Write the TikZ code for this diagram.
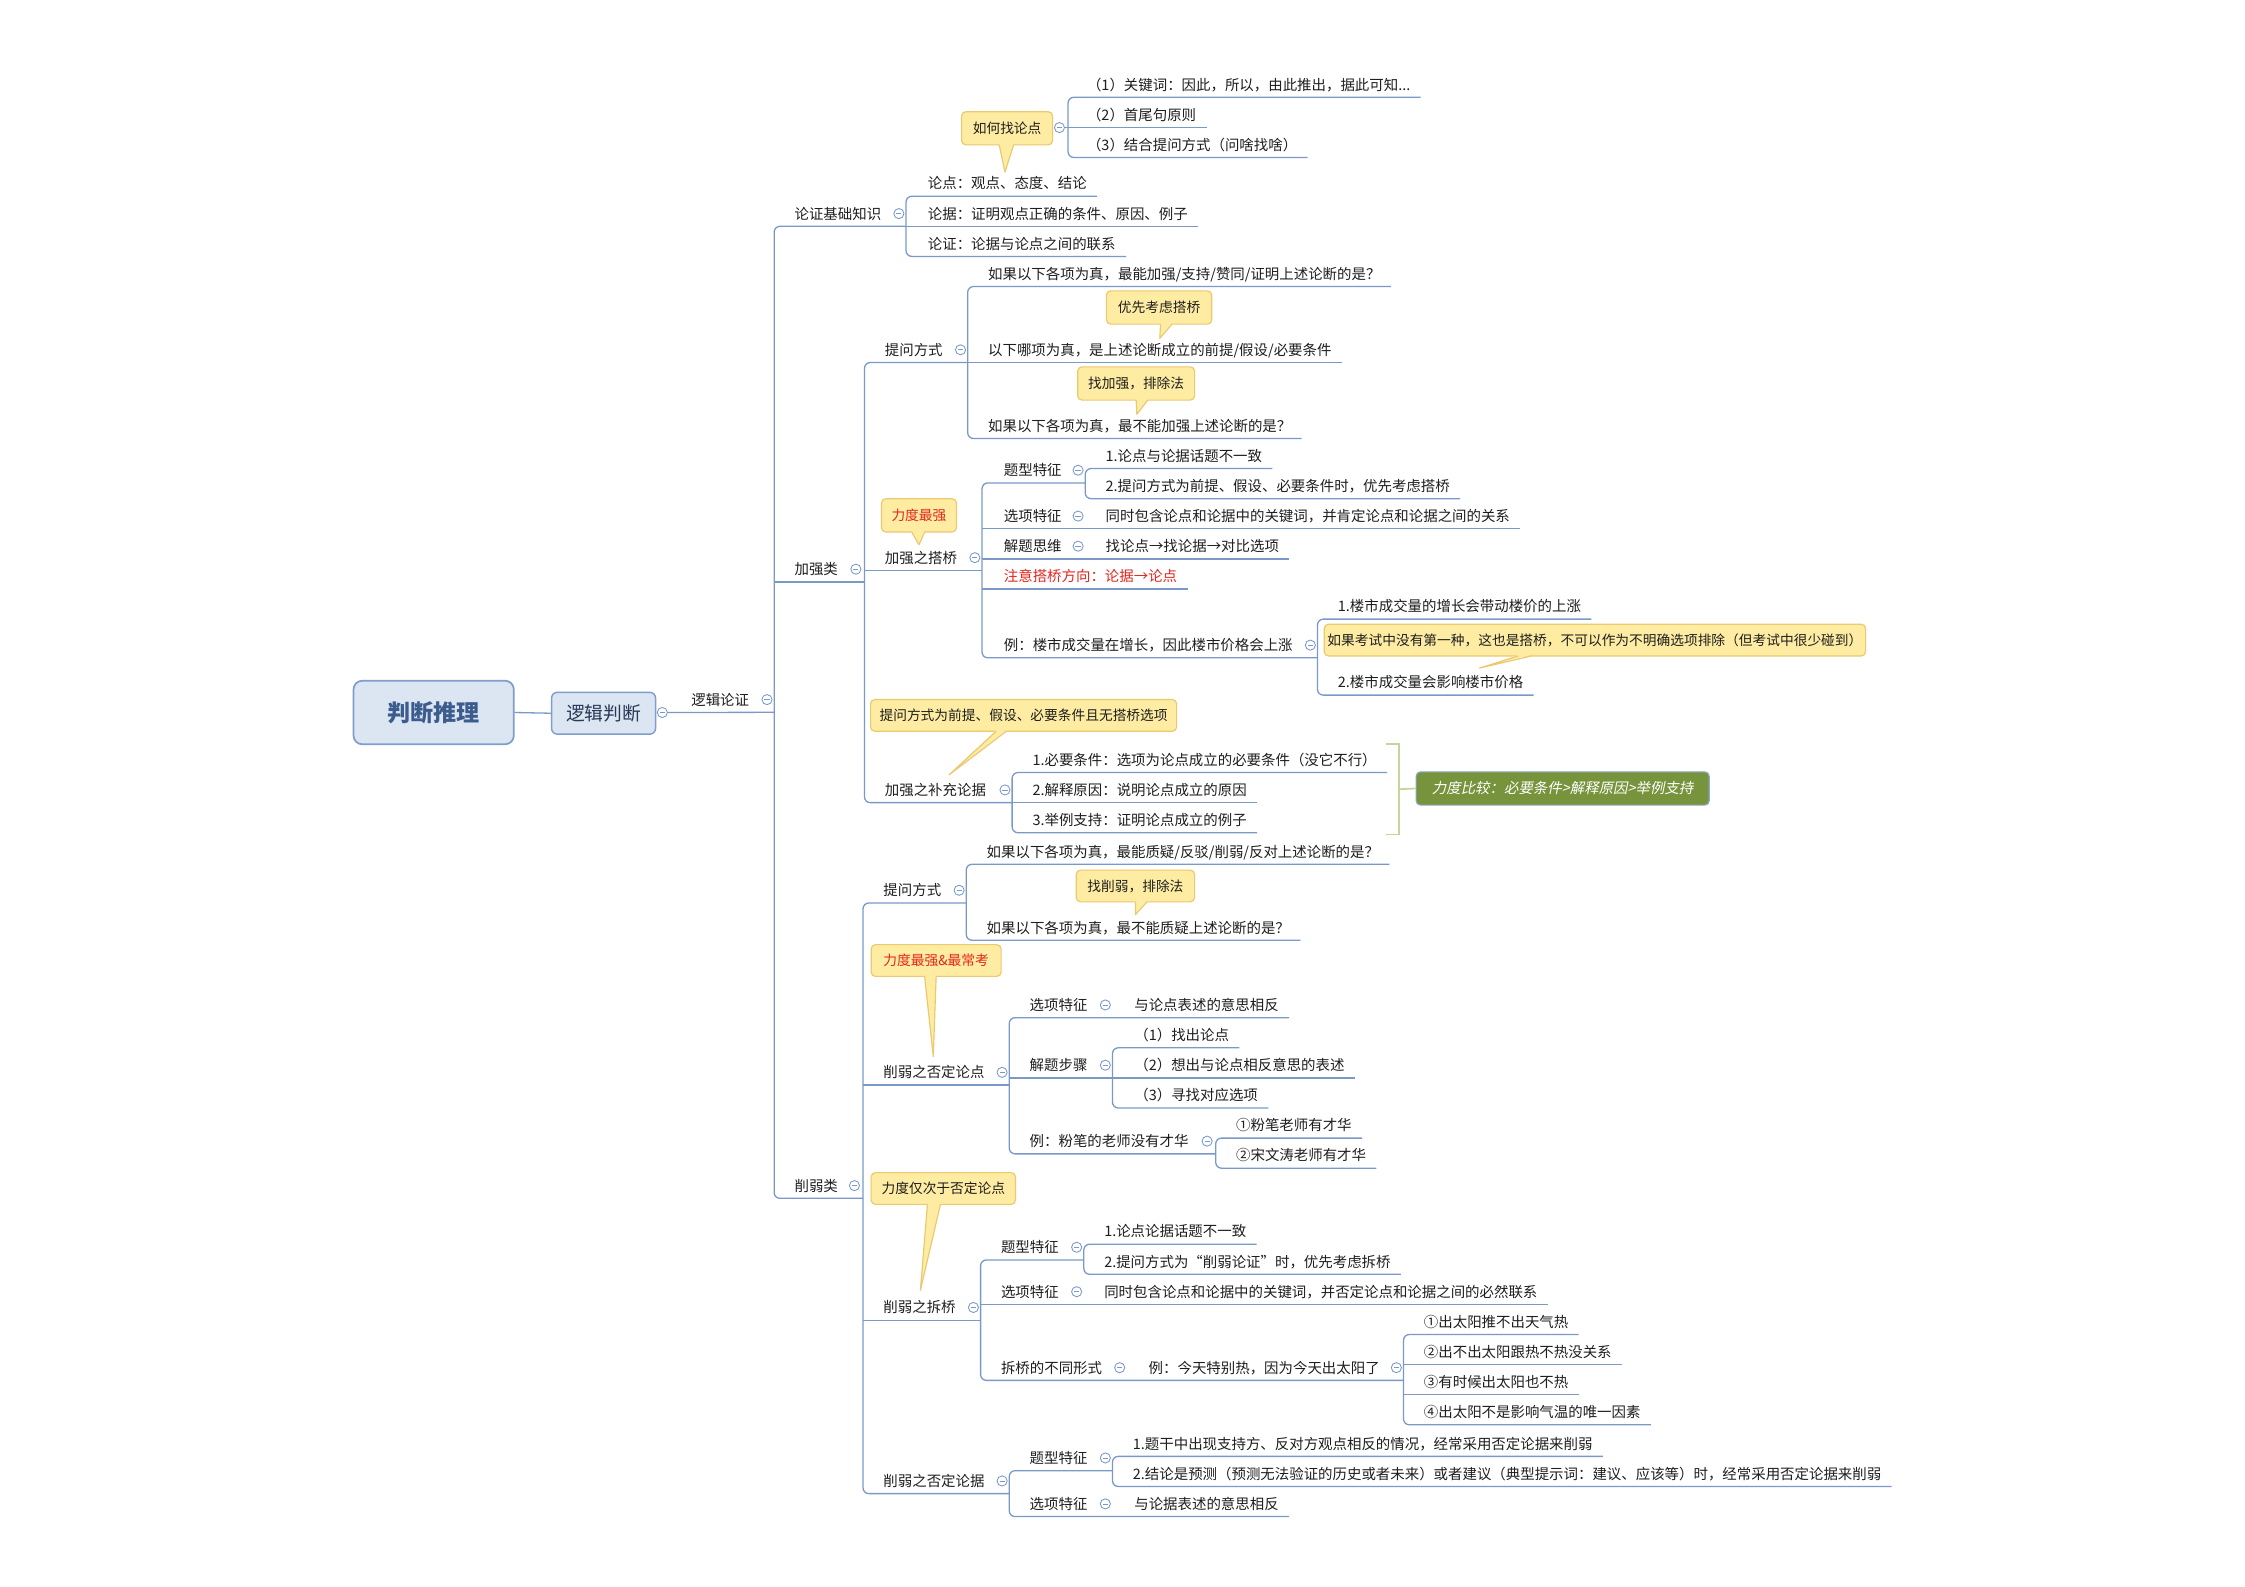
\documentclass[tikz,border=0pt]{standalone}
\usepackage{fontspec}
\newfontfamily\cjk{Noto Sans CJK SC}
\newfontfamily\cjkit{Noto Sans CJK SC}[FakeSlant=0.2]
\usetikzlibrary{calc}
\definecolor{linec}{RGB}{122,153,201}
\definecolor{txt}{RGB}{30,30,30}
\definecolor{redt}{RGB}{228,38,30}
\definecolor{callf}{RGB}{253,236,162}
\definecolor{callb}{RGB}{236,200,110}
\definecolor{rootf}{RGB}{220,230,243}
\definecolor{rootb}{RGB}{128,158,204}
\definecolor{roott}{RGB}{60,92,142}
\definecolor{ljt}{RGB}{40,55,85}
\definecolor{greenf}{RGB}{119,147,60}
\definecolor{greenb}{RGB}{140,170,200}
\definecolor{brk}{RGB}{195,214,155}
\tikzset{
  topic/.style={anchor=west, inner xsep=7pt, inner ysep=3.6pt, text height=8.8pt, text depth=1.2pt,
    font=\cjk\fontsize{10}{12}\selectfont, text=txt},
  redtopic/.style={topic, text=redt},
  coll/.style={circle, draw=linec, fill=white, line width=0.6pt, minimum size=7pt, inner sep=0pt,
    path picture={\draw[linec,line width=0.5pt] ([xshift=-1.8pt]path picture bounding box.center) -- ([xshift=1.8pt]path picture bounding box.center);}},
  br/.style={draw=linec, line width=0.9pt, rounded corners=4pt},
  call/.style={draw=callb, fill=callf, line width=0.8pt, rounded corners=3pt, inner sep=0pt,
    font=\cjk\fontsize{9.5}{11}\selectfont, text=txt},
  rootbox/.style={draw=rootb, fill=rootf, line width=1.2pt, rounded corners=6pt, minimum width=111pt,
    minimum height=44pt, font=\cjk\bfseries\fontsize{16}{18}\selectfont, text=roott},
  ljbox/.style={draw=rootb, fill=rootf, line width=1pt, rounded corners=4pt, minimum width=72pt,
    minimum height=29pt, font=\cjk\fontsize{13}{15}\selectfont, text=ljt},
  greenbox/.style={draw=greenb, fill=greenf, line width=0.8pt, rounded corners=3pt, minimum width=203pt,
    minimum height=23pt, font=\cjkit\fontsize{10}{12}\selectfont, text=white},
  brkline/.style={draw=brk, line width=1.2pt}
}
\newcommand\calloutptr[4]{%
  \fill[callf] ([xshift=#2pt,yshift=1.2pt]#1.south) -- (#4) -- ([xshift=#3pt,yshift=1.2pt]#1.south) -- cycle;
  \draw[callb,line width=0.8pt,line join=round] ([xshift=#2pt,yshift=0.4pt]#1.south) -- (#4) -- ([xshift=#3pt,yshift=0.4pt]#1.south);}
\begin{document}
\begin{tikzpicture}[x=0.993pt,y=-0.993pt]
\path[use as bounding box, fill=white] (0pt,0pt) rectangle (1555pt,-1099pt);

% ---------- root ----------
\node[rootbox] (root) at (302.5,497) {判断推理};
\node[ljbox] (lj) at (421,497.5) {逻辑判断};
\draw[br] (root.east) -- (lj.west);
\node[topic] (lz) at (475,488) {逻辑论证};
\coordinate (Tv) at (540,0);

% ---------- level 3 ----------
\node[topic] (jc) at (547,149) {论证基础知识};
\coordinate (jcv) at (632,0);
\node[topic] (jq) at (547,397) {加强类};
\coordinate (jqv) at (603,0);
\node[topic] (xr) at (547,827) {削弱类};
\coordinate (xrv) at (602,0);

% ---------- 论证基础知识 ----------
\node[topic] (ld) at (640,128) {论点：观点、态度、结论};
\node[topic] (lj2) at (640,149) {论据：证明观点正确的条件、原因、例子};
\node[topic] (lzz) at (640,170) {论证：论据与论点之间的联系};
\coordinate (c1v) at (745,0);
\node[topic] (k1) at (751,59) {（1）关键词：因此，所以，由此推出，据此可知...};
\node[topic] (k2) at (751,80) {（2）首尾句原则};
\node[topic] (k3) at (751,101) {（3）结合提问方式（问啥找啥）};

% ---------- 加强类 ----------
\node[topic] (tw1) at (610,244) {提问方式};
\coordinate (tw1v) at (675,0);
\node[topic] (q1) at (682,191) {如果以下各项为真，最能加强/支持/赞同/证明上述论断的是？};
\node[topic] (q2) at (682,244) {以下哪项为真，是上述论断成立的前提/假设/必要条件};
\node[topic] (q3) at (682,297) {如果以下各项为真，最不能加强上述论断的是？};

\node[topic] (dq) at (610,389) {加强之搭桥};
\coordinate (dqv) at (685,0);
\node[topic] (tx1) at (693,328) {题型特征};
\coordinate (tx1v) at (757,0);
\node[topic] (a1) at (764,318) {1.论点与论据话题不一致};
\node[topic] (a2) at (764,339) {2.提问方式为前提、假设、必要条件时，优先考虑搭桥};
\node[topic] (xx1) at (693,360) {选项特征};
\coordinate (xx1v) at (757,0);
\node[topic] (b1) at (764,360) {同时包含论点和论据中的关键词，并肯定论点和论据之间的关系};
\node[topic] (jt) at (693,381) {解题思维};
\coordinate (jtv) at (757,0);
\node[topic] (b2) at (764,381) {找论点→找论据→对比选项};
\node[redtopic] (zy) at (693,402) {注意搭桥方向：论据→论点};
\node[topic] (li1) at (693,450) {例：楼市成交量在增长，因此楼市价格会上涨};
\coordinate (li1v) at (919,0);
\node[topic] (e1) at (926,423) {1.楼市成交量的增长会带动楼价的上涨};
\node[topic] (e2) at (926,476) {2.楼市成交量会影响楼市价格};

\node[topic] (bc) at (610,551) {加强之补充论据};
\coordinate (bcv) at (706,0);
\node[topic] (f1) at (713,530) {1.必要条件：选项为论点成立的必要条件（没它不行）};
\node[topic] (f2) at (713,551) {2.解释原因：说明论点成立的原因};
\node[topic] (f3) at (713,572) {3.举例支持：证明论点成立的例子};

% ---------- 削弱类 ----------
\node[topic] (tw2) at (609,621) {提问方式};
\coordinate (tw2v) at (674,0);
\node[topic] (g1) at (681,594) {如果以下各项为真，最能质疑/反驳/削弱/反对上述论断的是？};
\node[topic] (g2) at (681,647) {如果以下各项为真，最不能质疑上述论断的是？};

\node[topic] (fl) at (609,748) {削弱之否定论点};
\coordinate (flv) at (704,0);
\node[topic] (xx2) at (711,701) {选项特征};
\coordinate (xx2v) at (776,0);
\node[topic] (h1) at (784,701) {与论点表述的意思相反};
\node[topic] (jb) at (711,743) {解题步骤};
\coordinate (jbv) at (776,0);
\node[topic] (j1) at (784,722) {（1）找出论点};
\node[topic] (j2) at (784,743) {（2）想出与论点相反意思的表述};
\node[topic] (j3) at (784,764) {（3）寻找对应选项};
\node[topic] (li2) at (711,796) {例：粉笔的老师没有才华};
\coordinate (li2v) at (848,0);
\node[topic] (m1) at (855,785) {①粉笔老师有才华};
\node[topic] (m2) at (855,806) {②宋文涛老师有才华};

\node[topic] (cq) at (609,912) {削弱之拆桥};
\coordinate (cqv) at (684,0);
\node[topic] (tx2) at (691,870) {题型特征};
\coordinate (tx2v) at (756,0);
\node[topic] (n1) at (763,859) {1.论点论据话题不一致};
\node[topic] (n2) at (763,880) {2.提问方式为“削弱论证”时，优先考虑拆桥};
\node[topic] (xx3) at (691,901) {选项特征};
\coordinate (xx3v) at (756,0);
\node[topic] (o1) at (763,901) {同时包含论点和论据中的关键词，并否定论点和论据之间的必然联系};
\node[topic] (bt) at (691,954) {拆桥的不同形式};
\coordinate (btv) at (786,0);
\node[topic] (p0) at (794,954) {例：今天特别热，因为今天出太阳了};
\coordinate (p0v) at (979,0);
\node[topic] (r1) at (986,922) {①出太阳推不出天气热};
\node[topic] (r2) at (986,943) {②出不出太阳跟热不热没关系};
\node[topic] (r3) at (986,964) {③有时候出太阳也不热};
\node[topic] (r4) at (986,985) {④出太阳不是影响气温的唯一因素};

\node[topic] (fj) at (609,1033) {削弱之否定论据};
\coordinate (fjv) at (704,0);
\node[topic] (tx3) at (711,1017) {题型特征};
\coordinate (tx3v) at (776,0);
\node[topic] (s1) at (783,1007) {1.题干中出现支持方、反对方观点相反的情况，经常采用否定论据来削弱};
\node[topic] (s2) at (783,1028) {2.结论是预测（预测无法验证的历史或者未来）或者建议（典型提示词：建议、应该等）时，经常采用否定论据来削弱};
\node[topic] (xx4) at (711,1049) {选项特征};
\coordinate (xx4v) at (776,0);
\node[topic] (t1) at (784,1049) {与论据表述的意思相反};

% ================= connectors =================
% trunk
\draw[br] (jcv |- jc.south) -- (Tv |- jc.south) -- (Tv |- xr.south) -- (xrv |- xr.south);
\draw[br] (Tv |- jq.south) -- (jqv |- jq.south);
% jc
\draw[br] (ld.south east) -- (jcv |- ld.south) -- (jcv |- lzz.south) -- (lzz.south east);
\draw[br] (jcv |- lj2.south) -- (lj2.south east);
% callout children
\draw[br] (k1.south east) -- (c1v |- k1.south) -- (c1v |- k3.south) -- (k3.south east);
\draw[br] (c1v |- k2.south) -- (k2.south east);
% jq
\draw[br] (jqv |- dq.south) -- (dqv |- dq.south);
\draw[br] (tw1v |- tw1.south) -- (jqv |- tw1.south) -- (jqv |- bc.south) -- (bcv |- bc.south);
\draw[br] (q1.south east) -- (tw1v |- q1.south) -- (tw1v |- q3.south) -- (q3.south east);
\draw[br] (tw1v |- q2.south) -- (q2.south east);
% dq
\draw[br] (tx1v |- tx1.south) -- (dqv |- tx1.south) -- (dqv |- li1.south) -- (li1v |- li1.south);
\draw[br] (a1.south east) -- (tx1v |- a1.south) -- (tx1v |- a2.south) -- (a2.south east);
\draw[br] (dqv |- xx1.south) -- (b1.south east);
\draw[br] (dqv |- jt.south) -- (b2.south east);
\draw[br] (dqv |- zy.south) -- (zy.south east);
\draw[br] (e1.south east) -- (li1v |- e1.south) -- (li1v |- e2.south) -- (e2.south east);
% bc
\draw[br] (f1.south east) -- (bcv |- f1.south) -- (bcv |- f3.south) -- (f3.south east);
\draw[br] (bcv |- f2.south) -- (f2.south east);
% xr
\draw[br] (tw2v |- tw2.south) -- (xrv |- tw2.south) -- (xrv |- fj.south) -- (fjv |- fj.south);
\draw[br] (xrv |- fl.south) -- (flv |- fl.south);
\draw[br] (xrv |- cq.south) -- (cqv |- cq.south);
\draw[br] (g1.south east) -- (tw2v |- g1.south) -- (tw2v |- g2.south) -- (g2.south east);
% fl
\draw[br] (h1.south east) -- (flv |- xx2.south) -- (flv |- li2.south) -- (li2v |- li2.south);
\draw[br] (flv |- jb.south) -- (jbv |- jb.south);
\draw[br] (j1.south east) -- (jbv |- j1.south) -- (jbv |- j3.south) -- (j3.south east);
\draw[br] (jbv |- j2.south) -- (j2.south east);
\draw[br] (m1.south east) -- (li2v |- m1.south) -- (li2v |- m2.south) -- (m2.south east);
% cq
\draw[br] (tx2v |- tx2.south) -- (cqv |- tx2.south) -- (cqv |- bt.south) -- (p0v |- bt.south);
\draw[br] (cqv |- xx3.south) -- (o1.south east);
\draw[br] (n1.south east) -- (tx2v |- n1.south) -- (tx2v |- n2.south) -- (n2.south east);
\draw[br] (r1.south east) -- (p0v |- r1.south) -- (p0v |- r4.south) -- (r4.south east);
\draw[br] (p0v |- r2.south) -- (r2.south east);
\draw[br] (p0v |- r3.south) -- (r3.south east);
% fj
\draw[br] (tx3v |- tx3.south) -- (fjv |- tx3.south) -- (fjv |- xx4.south) -- (t1.south east);
\draw[br] (s1.south east) -- (tx3v |- s1.south) -- (tx3v |- s2.south) -- (s2.south east);

% ---------- collapse circles ----------
\node[coll] (ljc) at (462,497) {};
\draw[br] (ljc.east) -- (Tv |- lz.south);
\node[coll] (lzc) at (535,488) {};
\node[coll] (jcc) at (627,149) {};
\node[coll] (jqc) at (597,397) {};
\node[coll] (xrc) at (596,827) {};
\node[coll] (tw1c) at (670,244) {};
\node[coll] (dqc) at (680,389) {};
\node[coll] (tx1c) at (752,328) {};
\node[coll] (xx1c) at (752,360) {};
\node[coll] (jtc) at (752,381) {};
\node[coll] (li1c) at (914,450) {};
\node[coll] (bcc) at (701,551) {};
\node[coll] (tw2c) at (669,621) {};
\node[coll] (flc) at (699,748) {};
\node[coll] (xx2c) at (771,701) {};
\node[coll] (jbc) at (771,743) {};
\node[coll] (li2c) at (842,796) {};
\node[coll] (cqc) at (679,912) {};
\node[coll] (tx2c) at (751,870) {};
\node[coll] (xx3c) at (751,901) {};
\node[coll] (btc) at (781,954) {};
\node[coll] (p0c) at (974,954) {};
\node[coll] (fjc) at (699,1033) {};
\node[coll] (tx3c) at (771,1017) {};
\node[coll] (xx4c) at (771,1049) {};

% ---------- callouts ----------
\node[call, minimum width=63pt, minimum height=23pt] (c1) at (702.5,89.5) {如何找论点};
\coordinate (c1t) at (701,120);
\calloutptr{c1}{-5.5}{4.5}{c1t}
\node[coll] (c1c) at (739,89) {};
\draw[br] (c1c.east) -- (c1v |- c1c);

\node[call, minimum width=73pt, minimum height=23pt] (c2) at (808.5,214.5) {优先考虑搭桥};
\coordinate (c2t) at (809,236);
\calloutptr{c2}{1}{9}{c2t}

\node[call, minimum width=81pt, minimum height=23pt] (c3) at (792.5,267.5) {找加强，排除法};
\coordinate (c3t) at (793,289);
\calloutptr{c3}{0}{8}{c3t}

\node[call, minimum width=52pt, minimum height=23pt, text=redt] (c4) at (641,359.5) {力度最强};
\coordinate (c4t) at (641,380);
\calloutptr{c4}{-5}{4}{c4t}

\node[call, minimum width=375pt, minimum height=22pt] (c5) at (1112.5,446.5) {如果考试中没有第一种，这也是搭桥，不可以作为不明确选项排除（但考试中很少碰到）};
\coordinate (c5t) at (1032,466);
\calloutptr{c5}{-53}{-44}{c5t}

\node[call, minimum width=212pt, minimum height=22pt] (c6) at (714,499) {提问方式为前提、假设、必要条件且无搭桥选项};
\coordinate (c6t) at (662,540.5);
\calloutptr{c6}{-19}{-12}{c6t}

\node[call, minimum width=82pt, minimum height=22pt] (c7) at (792,618) {找削弱，排除法};
\coordinate (c7t) at (792,638);
\calloutptr{c7}{0}{8}{c7t}

\node[call, minimum width=90pt, minimum height=22pt, text=redt] (c8) at (653,670) {力度最强\&最常考};
\coordinate (c8t) at (651,737);
\calloutptr{c8}{-8}{0}{c8t}

\node[call, minimum width=100pt, minimum height=22pt] (c9) at (658,829) {力度仅次于否定论点};
\coordinate (c9t) at (642,900);
\calloutptr{c9}{-11}{-2}{c9t}

% ---------- summary bracket ----------
\coordinate (bk1) at (967,519);
\coordinate (bk2) at (967,582);
\coordinate (bkm) at (976,550.5);
\node[greenbox] (gb) at (1090,550) {力度比较：必要条件>解释原因>举例支持};
\draw[brkline] (bk1) -- (bkm |- bk1) -- (bkm |- bk2) -- (bk2);
\draw[brkline] (bkm) -- (gb.west);
\end{tikzpicture}
\end{document}
